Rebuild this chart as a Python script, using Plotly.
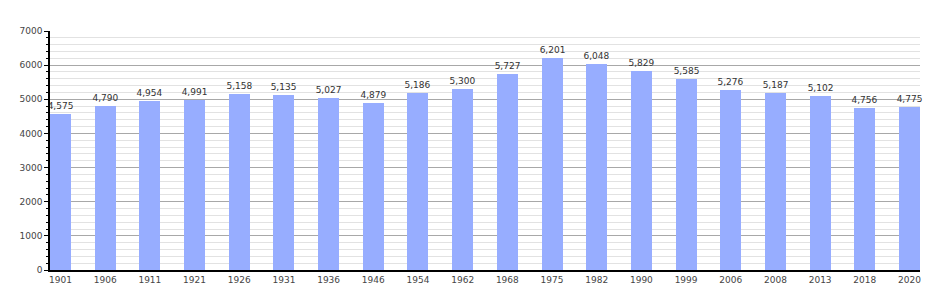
import plotly.graph_objects as go

years = ["1901", "1906", "1911", "1921", "1926", "1931", "1936", "1946", "1954", "1962",
         "1968", "1975", "1982", "1990", "1999", "2006", "2008", "2013", "2018", "2020"]
population = [4575, 4790, 4954, 4991, 5158, 5135, 5027, 4879, 5186, 5300,
              5727, 6201, 6048, 5829, 5585, 5276, 5187, 5102, 4756, 4775]
y_ticks = [0, 1000, 2000, 3000, 4000, 5000, 6000, 7000]

idx = list(range(len(years)))

fig = go.Figure()
fig.add_trace(go.Bar(
    x=idx, y=population, width=0.47,
    marker=dict(color="#97adff", line=dict(width=0)),
    text=[f"{v:,}" for v in population], textposition="outside",
    constraintext="none",
    textfont=dict(family="DejaVu Sans", size=9, color="#333333"),
    cliponaxis=False, hoverinfo="x+y",
))

fig.update_layout(
    width=950, height=300,
    margin=dict(l=50, r=30, t=31, b=30),
    paper_bgcolor="white", plot_bgcolor="white",
    showlegend=False, bargap=0, uniformtext=dict(minsize=9, mode="show"),
    font=dict(family="DejaVu Sans", size=9, color="#444444"),
)
fig.update_xaxes(
    range=[-0.235, 19.235], tickmode="array", tickvals=idx, ticktext=years,
    showgrid=False, showline=True, linecolor="black", linewidth=1.5,
    ticks="", tickfont=dict(size=9, color="#444444"), zeroline=False,
)
fig.update_yaxes(
    range=[0, 7000], tickmode="array", tickvals=y_ticks,
    showgrid=True, gridcolor="#a8a8a8", gridwidth=1,
    showline=True, linecolor="black", linewidth=1.5,
    ticks="outside", ticklen=4, tickcolor="black", tickwidth=1,
    tickfont=dict(size=9, color="#444444"), zeroline=False,
    minor=dict(dtick=200, showgrid=True, gridcolor="#e2e2e2", gridwidth=1,
               ticks="outside", ticklen=2, tickcolor="black"),
)

fig.write_html("out.html")
